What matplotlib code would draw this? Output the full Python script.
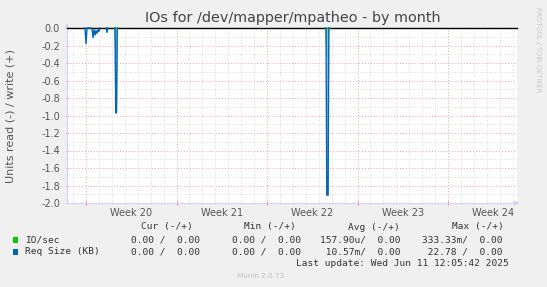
import matplotlib
matplotlib.use('Agg')
import matplotlib.pyplot as plt
import numpy as np

nan = float('nan')

# x in days from the left edge of the graph (one month view)
week_starts = [1.47, 8.47, 15.47, 22.47, 29.47]
week_labels = ['Week 20', 'Week 21', 'Week 22', 'Week 23', 'Week 24']
x_max = 34.8

# Req Size (KB), drawn below zero (read side); nan = no data
req_days = [1.39, 1.47, 1.55, 1.93, 2.01, 2.09, 2.17, 2.24, 2.32, 2.40, 2.47, 2.55,
            2.8, 3.02, 3.09, 3.17, 3.4, 3.71, 3.77, 3.83, 3.89]
req_vals = [0.0, -0.18, 0.0, 0.0, -0.11, -0.02, -0.08, -0.03, -0.06, -0.02, -0.04, 0.0,
            nan, 0.0, -0.05, 0.0, nan, 0.0, -0.97, -0.97, 0.0]
req2_days = [20.03, 20.09, 20.19, 20.25]
req2_vals = [0.0, -1.91, -1.91, 0.0]

# IO/sec, read side
io_days = [3.71, 3.79, 3.89, 3.97, 10.0, 20.03, 20.11, 20.25, 20.33]
io_vals = [0.0, -0.33, 0.0, 0.0, nan, 0.0, -0.33, 0.0, 0.0]

legend_rows = [
    ('IO/sec', '#00cc00', '0.00 /  0.00', '0.00 /  0.00', '157.90u/  0.00', '333.33m/  0.00'),
    ('Req Size (KB)', '#0066b3', '0.00 /  0.00', '0.00 /  0.00', ' 10.57m/  0.00', ' 22.78 /  0.00'),
]

W, H = 547, 287
fig = plt.figure(figsize=(W / 100, H / 100), dpi=100, facecolor='#f0f0f0')
ax = fig.add_axes([67 / W, 1 - 203 / H, 450 / W, 175 / H])
ax.set_facecolor('white')

ax.set_xlim(0, x_max)
ax.set_ylim(-2.0, 0.0)

# grid
days = np.arange(week_starts[0] - 1, x_max, 1.0)
yticks = np.round(np.arange(-2.0, 0.01, 0.2), 1)
ax.set_xticks(week_starts)
ax.set_xticks(days, minor=True)
ax.set_yticks(yticks)
ax.set_yticks(np.arange(-2.0, 0.01, 0.1), minor=True)
ax.grid(which='minor', color='#d4d4d4', linestyle=(0, (1, 2)), linewidth=0.6)
ax.grid(which='major', color='#f0a0a0', linestyle=(0, (1, 2)), linewidth=0.7)
ax.set_axisbelow(True)
ax.set_xticklabels([])
ax.tick_params(axis='x', which='major', length=3, color='#f08080', direction='inout')
ax.tick_params(axis='x', which='minor', length=2, color='#c8c8c8', direction='inout')
ax.tick_params(axis='y', which='major', length=2, color='#f08080', direction='inout',
               labelsize=7, labelcolor='#555555', pad=4)
ax.tick_params(axis='y', which='minor', length=1, color='#c8c8c8')
ax.set_yticklabels(['%.1f' % (v + 0.0) if v != 0 else '0.0' for v in yticks])
for xw, lab in zip(week_starts, week_labels):
    ax.text(xw + 3.5, -0.03, lab, transform=ax.get_xaxis_transform(), ha='center',
            va='top', fontsize=7, color='#555555')

for s in ['top', 'right']:
    ax.spines[s].set_visible(False)
ax.spines['left'].set_color('#cfd6f8')
ax.spines['bottom'].set_color('#cfd6f8')
ax.annotate('', xy=(0, 1.045), xytext=(0, 0.98), xycoords='axes fraction',
            arrowprops=dict(arrowstyle='-|>', color='#cfd6f8', lw=0.8, mutation_scale=7))
ax.annotate('', xy=(1.012, 0), xytext=(0.99, 0), xycoords='axes fraction',
            arrowprops=dict(arrowstyle='-|>', color='#cfd6f8', lw=0.8, mutation_scale=7))

# zero line
ax.axhline(0, color='black', linewidth=1.0, clip_on=False, zorder=3)

# data
ax.plot(io_days, io_vals, color='#00cc00', linewidth=1.0, clip_on=False, zorder=4)
ax.fill_between(req_days[17:], req_vals[17:], 0, color='#8fbbe0', linewidth=0, zorder=4)
ax.fill_between(req2_days, req2_vals, 0, color='#8fbbe0', linewidth=0, zorder=4)
ax.plot(req_days, req_vals, color='#0066b3', linewidth=1.0, clip_on=False, zorder=5)
ax.plot(req2_days, req2_vals, color='#0066b3', linewidth=1.0, clip_on=False, zorder=5)

# texts
def px(x, y):
    return x / W, 1 - y / H

fig.text(*px(293, 18), 'IOs for /dev/mapper/mpatheo - by month', ha='center', va='center',
         fontsize=10.4, color='#444444')
fig.text(*px(11, 116), 'Units read (-) / write (+)', rotation=90, ha='center', va='center',
         fontsize=8, color='#555555')
fig.text(*px(538, 50), 'RRDTOOL / TOBI OETIKER', rotation=270, ha='center', va='center',
         fontsize=4.8, color='#c8c8c8')

mono = dict(family='DejaVu Sans Mono', fontsize=6.8, color='#333333', va='center')
headers = [(141, 'Cur (-/+)'), (244, 'Min (-/+)'), (348, 'Avg (-/+)'), (452, 'Max (-/+)')]
for x, h in headers:
    fig.text(*px(x, 227), h, ha='left', **mono)
col_ends = [200, 301, 401, 503]
for i, row in enumerate(legend_rows):
    y = 240 + 12 * i
    fig.patches.append(plt.Rectangle(px(13, y + 3), 5 / W, 6 / H, transform=fig.transFigure,
                                     facecolor=row[1], edgecolor='none'))
    fig.text(*px(25, y), row[0], ha='left', **mono)
    for xe, val in zip(col_ends, row[2:]):
        fig.text(*px(xe, y), val, ha='right', **mono)
fig.text(*px(509, 263), 'Last update: Wed Jun 11 12:05:42 2025', ha='right', **mono)
fig.text(*px(261, 276), 'Munin 2.0.73', ha='center', va='center', fontsize=5.2, color='#c0c0c0')

fig.savefig('out.png', dpi=100, facecolor=fig.get_facecolor())
